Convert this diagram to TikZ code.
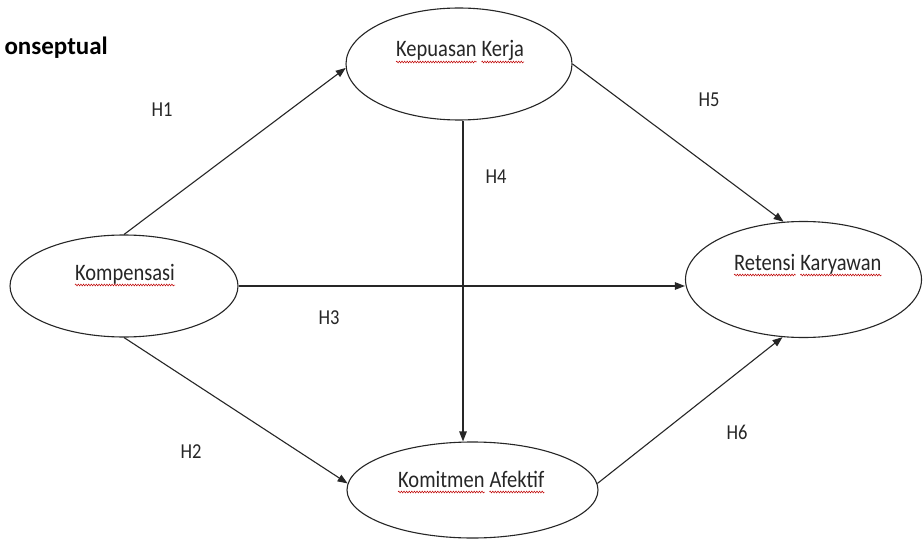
\documentclass[tikz,border=0pt]{standalone}
\usepackage{fontspec}
\setmainfont{Carlito}
\usetikzlibrary{arrows.meta,shapes.geometric,decorations.pathmorphing,calc}
\begin{document}
\begin{tikzpicture}[x=1pt,y=-1pt,
  ell/.style={draw=black!85, ellipse, line width=1.1pt, inner sep=0pt},
  arr/.style={draw=black!85, -{Triangle[length=10pt,width=7.5pt]}, line width=1.1pt},
  txt/.style={font=\fontsize{20.5}{24}\selectfont, text=black!85, inner sep=0pt},
  hlbl/.style={font=\fontsize{18.5}{22}\selectfont, text=black!85, inner sep=0pt},
  wave/.style={draw=red!75!black, line width=0.5pt, decorate,
    decoration={snake, amplitude=0.9pt, segment length=2.6pt}}]
\fill[white] (0,0) rectangle (923,540);
% title
\node[font=\bfseries\fontsize{25}{30}\selectfont, inner sep=0pt, anchor=base east] (title) at (108,55) {onseptual};
% ellipses
\node[ell, minimum width=228pt, minimum height=102pt] (kp) at (124,286) {};
\node[ell, minimum width=226pt, minimum height=112pt] (kk) at (459,64) {};
\node[ell, minimum width=236pt, minimum height=116pt] (rk) at (803.5,279.5) {};
\node[ell, minimum width=251pt, minimum height=96pt] (ka) at (472.5,490) {};
% texts
\node[txt, anchor=base] (kpt) at (125,280) {\scalebox{1}[1.15]{Kompensasi}};
\node[txt, anchor=base west] (kk1) at (396,57) {\scalebox{1}[1.15]{Kepuasan}};
\node[txt, anchor=base west] (kk2) at ([xshift=4.6pt]kk1.base east) {\scalebox{1}[1.15]{Kerja}};
\node[txt, anchor=base west] (rk1) at (734,270) {\scalebox{1}[1.15]{Retensi}};
\node[txt, anchor=base west] (rk2) at ([xshift=4.6pt]rk1.base east) {\scalebox{1}[1.15]{Karyawan}};
\node[txt, anchor=base west] (ka1) at (398,487) {\scalebox{1}[1.15]{Komitmen}};
\node[txt, anchor=base west] (ka2) at ([xshift=4.6pt]ka1.base east) {\scalebox{1}[1.15]{Afektif}};
% spell-check underlines
\foreach \n in {kpt,kk1,kk2,rk1,rk2,ka1,ka2}{
  \draw[wave] ([yshift=-5pt]\n.base west) -- ([yshift=-5pt]\n.base east);
}
% connectors
\draw[arr] (kp.north) -- (kk.182);
\draw[arr] (kp.east) -- (kp.east -| rk.west);
\draw[arr] (kp.south) -- (ka.177);
\draw[arr] ([xshift=4pt]kk.south) -- ([xshift=4pt]kk.south |- ka.north);
\draw[arr] (kk.east) -- (rk.109);
\draw[arr] (ka.3) -- (rk.-110);
% hypothesis labels
\node[hlbl] (h1) at (162,110) {\scalebox{1}[1.15]{H1}};
\node[hlbl] (h2) at (191,452) {\scalebox{1}[1.15]{H2}};
\node[hlbl] (h3) at (329,318) {\scalebox{1}[1.15]{H3}};
\node[hlbl] (h4) at (496,177) {\scalebox{1}[1.15]{H4}};
\node[hlbl] (h5) at (709,100) {\scalebox{1}[1.15]{H5}};
\node[hlbl] (h6) at (737,432) {\scalebox{1}[1.15]{H6}};
\end{tikzpicture}
\end{document}
